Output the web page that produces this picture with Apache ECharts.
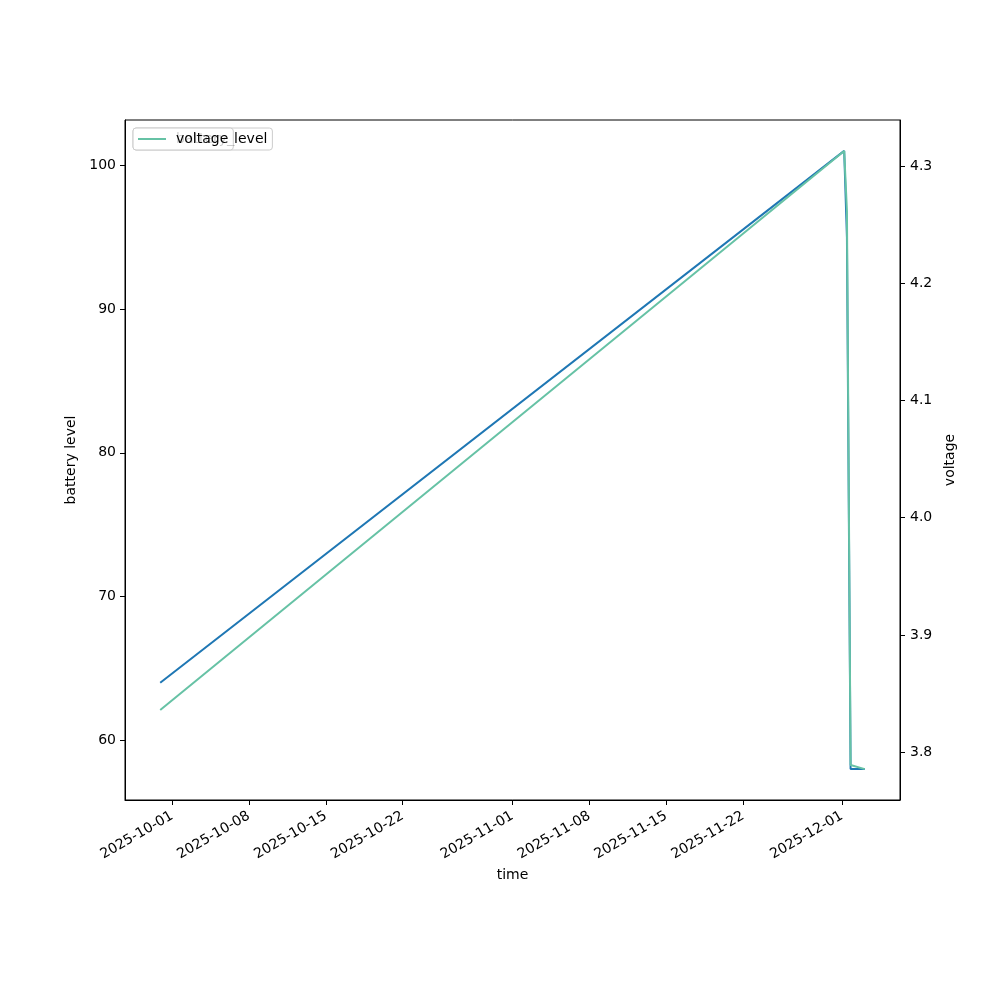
<!DOCTYPE html>
<html>
<head>
<meta charset="utf-8">
<script src="https://cdn.jsdelivr.net/npm/echarts@6/dist/echarts.min.js"></script>
<style>html,body{margin:0;padding:0;background:#fff}#c{width:1000px;height:1000px}</style>
</head>
<body>
<div id="c"></div>
<script>
// ---- data ----
const times = ['2025-09-29T22:00:00Z', '2025-12-01T05:00:00Z', '2025-12-01T11:00:00Z', '2025-12-01T19:00:00Z', '2025-12-03T02:00:00Z'];
const batteryLevel = [64, 101, 95, 58, 58];
const voltage = [3.836, 4.313, 4.262, 3.789, 3.7855];
const tickDates = ['2025-10-01', '2025-10-08', '2025-10-15', '2025-10-22', '2025-11-01', '2025-11-08', '2025-11-15', '2025-11-22', '2025-12-01'];
const batteryTicks = [60, 70, 80, 90, 100];
const voltageTicks = [3.8, 3.9, 4.0, 4.1, 4.2, 4.3];

const FONT = 'DejaVu Sans';
const tMs = times.map(t => Date.parse(t));
const tickMs = tickDates.map(d => Date.parse(d + 'T00:00:00Z'));
function padRange(arr) {
  const lo = Math.min(...arr), hi = Math.max(...arr), m = (hi - lo) * 0.05;
  return [lo - m, hi + m];
}
const xr = padRange(tMs), br = padRange(batteryLevel), vr = padRange(voltage);
function fmtDate(v) {
  const d = new Date(v);
  const p = n => String(n).padStart(2, '0');
  return d.getUTCFullYear() + '-' + p(d.getUTCMonth() + 1) + '-' + p(d.getUTCDate());
}
const axisCommon = {
  axisLine: { show: true, onZero: false, lineStyle: { color: '#000', width: 1 } },
  axisTick: { show: true, length: 5, lineStyle: { color: '#000', width: 1 } },
  splitLine: { show: false },
  nameTextStyle: { color: '#000', fontFamily: FONT, fontSize: 14 }
};
const chart = echarts.init(document.getElementById('c'), null, { renderer: 'canvas' });
chart.setOption({
  animation: false,
  backgroundColor: '#fff',
  grid: { left: 125, right: 100, top: 120, bottom: 200, show: true, borderColor: '#000', borderWidth: 1, backgroundColor: 'transparent' },
  legend: [
    {
      data: ['battery_level'], left: 133, top: 128, z: 10,
      icon: 'rect', itemWidth: 28, itemHeight: 2,
      padding: [4, 5], backgroundColor: 'rgba(255,255,255,0.8)', borderColor: '#cccccc', borderWidth: 1, borderRadius: 3,
      textStyle: { color: '#000', fontFamily: FONT, fontSize: 14, padding: [0, 0, 0, 5] }
    },
    {
      data: ['voltage'], left: 133, top: 128, z: 11,
      icon: 'rect', itemWidth: 28, itemHeight: 2,
      padding: [4, 5], backgroundColor: 'rgba(255,255,255,0.8)', borderColor: '#cccccc', borderWidth: 1, borderRadius: 3,
      textStyle: { color: '#000', fontFamily: FONT, fontSize: 14, padding: [0, 0, 0, 5] }
    }
  ],
  xAxis: Object.assign({}, axisCommon, {
    type: 'value', min: xr[0], max: xr[1], scale: true,
    name: 'time', nameLocation: 'middle', nameGap: 66,
    axisTick: Object.assign({}, axisCommon.axisTick, { customValues: tickMs }),
    axisLabel: { customValues: tickMs, rotate: 30, margin: 15, color: '#000', fontFamily: FONT, fontSize: 14, formatter: fmtDate, hideOverlap: false }
  }),
  yAxis: [
    Object.assign({}, axisCommon, {
      type: 'value', position: 'left', min: br[0], max: br[1],
      name: 'battery level', nameLocation: 'middle', nameGap: 38, nameRotate: 90,
      axisTick: Object.assign({}, axisCommon.axisTick, { customValues: batteryTicks }),
      axisLabel: { customValues: batteryTicks, margin: 9, color: '#000', fontFamily: FONT, fontSize: 14 }
    }),
    Object.assign({}, axisCommon, {
      type: 'value', position: 'right', min: vr[0], max: vr[1],
      name: 'voltage', nameLocation: 'middle', nameGap: 31, nameRotate: 90,
      axisTick: Object.assign({}, axisCommon.axisTick, { customValues: voltageTicks }),
      axisLabel: { customValues: voltageTicks, margin: 10, color: '#000', fontFamily: FONT, fontSize: 14, formatter: v => v.toFixed(1) }
    })
  ],
  series: [
    {
      name: 'battery_level', type: 'line', yAxisIndex: 0, symbol: 'none', z: 2,
      data: tMs.map((t, i) => [t, batteryLevel[i]]),
      lineStyle: { color: '#1f77b4', width: 2 }, itemStyle: { color: '#1f77b4' }
    },
    {
      name: 'voltage', type: 'line', yAxisIndex: 1, symbol: 'none', z: 3,
      data: tMs.map((t, i) => [t, voltage[i]]),
      lineStyle: { color: '#66c2a5', width: 2 }, itemStyle: { color: '#66c2a5' }
    }
  ]
});
</script>
</body>
</html>
